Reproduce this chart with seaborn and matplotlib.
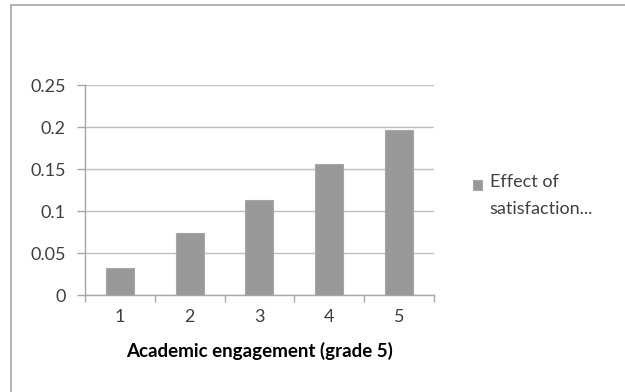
import matplotlib
matplotlib.use("Agg")
import matplotlib.pyplot as plt
import seaborn as sns
import pandas as pd
import numpy as np
from matplotlib.lines import Line2D
from matplotlib.patches import Rectangle
from matplotlib.legend_handler import HandlerPatch

# chart values
grades = ["1", "2", "3", "4", "5"]
effects = [0.032, 0.074, 0.113, 0.156, 0.196]
series_name = "Effect of\nsatisfaction..."
y_ticks = [0, 0.05, 0.1, 0.15, 0.2, 0.25]
y_tick_labels = ["0", "0.05", "0.1", "0.15", "0.2", "0.25"]

sns.set_style("white")
plt.rcParams['font.family'] = ['Lato', 'DejaVu Sans']

df = pd.DataFrame({"grade": grades, "effect": effects})

fig = plt.figure(figsize=(6.25, 3.92), dpi=100)
ax = fig.add_axes([0.136, 0.2474, 0.558, 0.5357])

sns.barplot(data=df, x="grade", y="effect", color="#999999", width=0.4,
            edgecolor="#a6a6a6", linewidth=0.8, saturation=1,
            ax=ax, zorder=3)

ax.set_xlim(-0.5, len(grades) - 0.5)
ax.set_ylim(0, 0.25)
ax.set_yticks(y_ticks)
ax.set_yticklabels(y_tick_labels)
ax.yaxis.grid(True, color="#bfbfbf", linewidth=1.0, zorder=0)
ax.set_axisbelow(True)

for side in ["top", "right"]:
    ax.spines[side].set_visible(False)
for side in ["left", "bottom"]:
    ax.spines[side].set_color("#a6a6a6")
    ax.spines[side].set_linewidth(1.0)

# category boundary ticks like the original spreadsheet chart
ax.set_xticks(np.arange(-0.5, len(grades)), minor=True)
ax.tick_params(axis="x", which="major", length=0, pad=10, labelsize=13, colors="#404040")
ax.tick_params(axis="x", which="minor", length=5, width=1, color="#a6a6a6", direction="out", bottom=True)
ax.tick_params(axis="y", which="major", length=6, width=1, color="#a6a6a6", direction="out",
               left=True, pad=8, labelsize=13, labelcolor="#404040")

ax.set_ylabel("")
ax.set_xlabel("Academic engagement (grade 5)", fontsize=13.5, fontweight="bold",
              color="#000000", labelpad=12)


def top_line_patch(legend, orig_handle, xdescent, ydescent, width, height, fontsize):
    # put the swatch next to the first line of the two-line label
    return Rectangle((-xdescent, -ydescent + fontsize * 0.6), width, height)


leg = ax.legend(handles=[ax.patches[0]], labels=[series_name],
                loc="upper left", bbox_to_anchor=(0.73, 0.597), bbox_transform=fig.transFigure,
                frameon=False, handlelength=0.55, handleheight=0.55, handletextpad=0.4,
                fontsize=13, labelcolor="#404040",
                handler_map={Rectangle: HandlerPatch(patch_func=top_line_patch)})
for t in leg.get_texts():
    t.set_linespacing(1.85)

# chart frame: only top and left edges visible in the crop
fig.add_artist(Line2D([11 / 625, 1], [1 - 5 / 392, 1 - 5 / 392], transform=fig.transFigure,
                      color="#a6a6a6", linewidth=1.2))
fig.add_artist(Line2D([11 / 625, 11 / 625], [0, 1 - 5 / 392], transform=fig.transFigure,
                      color="#a6a6a6", linewidth=1.2))

fig.savefig("out.png", dpi=100)
